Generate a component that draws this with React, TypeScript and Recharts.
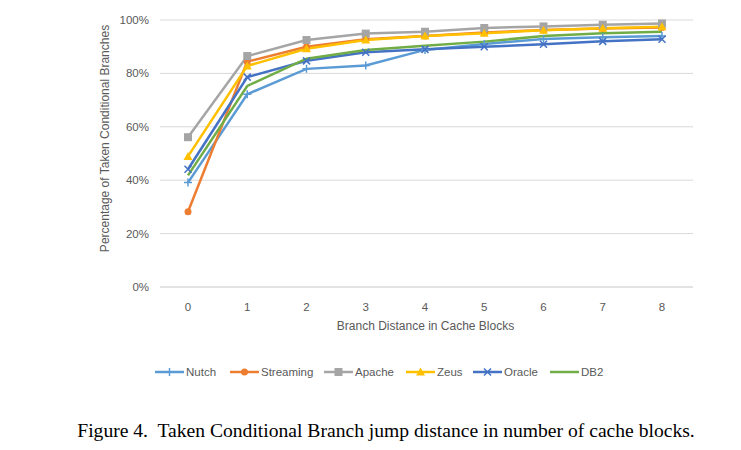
import React from 'react';
import { LineChart, Line, XAxis, YAxis, CartesianGrid, Legend } from 'recharts';

const distances = ['0', '1', '2', '3', '4', '5', '6', '7', '8'];
const nutch = [39.1, 72.2, 81.7, 83.0, 88.8, 91.0, 92.9, 93.5, 94.0];
const streaming = [28.2, 84.4, 90.0, 92.8, 94.0, 95.3, 96.3, 96.8, 97.2];
const apache = [56.1, 86.5, 92.5, 94.9, 95.6, 97.0, 97.6, 98.2, 98.7];
const zeus = [48.9, 82.8, 89.2, 92.5, 94.0, 95.0, 96.2, 96.9, 97.5];
const oracle = [44.1, 78.6, 84.7, 87.9, 89.0, 90.0, 90.9, 92.0, 92.8];
const db2 = [41.8, 75.3, 85.5, 88.8, 90.4, 91.9, 94.0, 95.0, 95.6];
const yTicks = [0, 20, 40, 60, 80, 100];

const data = distances.map((d, i) => ({
  d,
  Nutch: nutch[i],
  Streaming: streaming[i],
  Apache: apache[i],
  Zeus: zeus[i],
  Oracle: oracle[i],
  DB2: db2[i],
}));

const FONT = '"Liberation Sans", Arial, sans-serif';
const GRAY = '#595959';

type Marker = 'plus' | 'circle' | 'square' | 'triangle' | 'x' | 'none';

const series: { key: string; color: string; marker: Marker }[] = [
  { key: 'Nutch', color: '#5B9BD5', marker: 'plus' },
  { key: 'Streaming', color: '#ED7D31', marker: 'circle' },
  { key: 'Apache', color: '#A5A5A5', marker: 'square' },
  { key: 'Zeus', color: '#FFC000', marker: 'triangle' },
  { key: 'Oracle', color: '#4472C4', marker: 'x' },
  { key: 'DB2', color: '#70AD47', marker: 'none' },
];

const drawMarker = (m: Marker, cx: number, cy: number, color: string, k?: string) => {
  switch (m) {
    case 'plus':
      return (
        <path key={k} d={`M${cx - 4},${cy}H${cx + 4}M${cx},${cy - 4}V${cy + 4}`} stroke={color} strokeWidth={1.5} fill="none" />
      );
    case 'circle':
      return <circle key={k} cx={cx} cy={cy} r={3.5} fill={color} />;
    case 'square':
      return <rect key={k} x={cx - 4} y={cy - 4} width={8} height={8} fill={color} />;
    case 'triangle':
      return <path key={k} d={`M${cx},${cy - 4.5}L${cx + 4.5},${cy + 3.5}L${cx - 4.5},${cy + 3.5}Z`} fill={color} />;
    case 'x':
      return (
        <path key={k} d={`M${cx - 3.5},${cy - 3.5}L${cx + 3.5},${cy + 3.5}M${cx + 3.5},${cy - 3.5}L${cx - 3.5},${cy + 3.5}`} stroke={color} strokeWidth={1.5} fill="none" />
      );
    default:
      return <g key={k} />;
  }
};

const makeDot = (m: Marker, color: string) => (props: any) => {
  const { cx, cy, index } = props;
  return drawMarker(m, cx, cy, color, `dot-${index}`);
};

// legend laid out like the Excel one: line with marker in the middle, then the name
const legendPos = [147, 222, 316, 398, 465, 542];

const CustomLegend = () => (
  <svg width={733} height={30}>
    {series.map((s, i) => {
      const x = legendPos[i];
      return (
        <g key={s.key}>
          <line x1={x} x2={x + 29} y1={15} y2={15} stroke={s.color} strokeWidth={2.5} />
          {drawMarker(s.marker, x + 14.5, 15, s.color)}
          <text x={x + 31} y={19} fontSize={11.5} fontFamily={FONT} fill={GRAY}>
            {s.key}
          </text>
        </g>
      );
    })}
  </svg>
);

export default function App() {
  return (
    <div style={{ width: 733, background: '#fff' }}>
      <LineChart width={733} height={390} data={data} margin={{ top: 12, right: 48, left: 0, bottom: 11 }}>
        <CartesianGrid vertical={false} stroke="#d9d9d9" strokeWidth={1} />
        <XAxis
          dataKey="d"
          height={70}
          padding={{ left: 28, right: 31 }}
          axisLine={{ stroke: '#d9d9d9' }}
          tickLine={false}
          tickMargin={10}
          tick={{ fontSize: 11.5, fill: GRAY, fontFamily: FONT }}
          label={{
            content: (p: any) => {
              const vb = p.viewBox;
              return (
                <text x={vb.x + vb.width / 2 - 1} y={vb.y + 43} textAnchor="middle" fontSize={12} fontFamily={FONT} fill={GRAY}>
                  Branch Distance in Cache Blocks
                </text>
              );
            },
          }}
        />
        <YAxis
          width={152}
          domain={[0, 100]}
          ticks={yTicks}
          interval={0}
          axisLine={false}
          tickLine={false}
          tickMargin={5}
          tickFormatter={(v: number) => `${v}%`}
          tick={{ fontSize: 11.5, fill: GRAY, fontFamily: FONT }}
          label={{
            content: (p: any) => {
              const vb = p.viewBox;
              const cy = vb.y + vb.height / 2 - 15;
              return (
                <text x={101} y={cy} transform={`rotate(-90 101 ${cy})`} textAnchor="middle" fontSize={12} fontFamily={FONT} fill={GRAY}>
                  Percentage of Taken Conditional Branches
                </text>
              );
            },
          }}
        />
        {series.map((s) => (
          <Line
            key={s.key}
            type="linear"
            dataKey={s.key}
            stroke={s.color}
            strokeWidth={2.5}
            dot={makeDot(s.marker, s.color)}
            activeDot={false}
            isAnimationActive={false}
          />
        ))}
        <Legend verticalAlign="bottom" height={30} content={() => <CustomLegend />} />
      </LineChart>
      <div
        style={{
          fontFamily: '"Liberation Serif", "Times New Roman", serif',
          fontSize: 19.6,
          color: '#000',
          textAlign: 'center',
          marginTop: 22,
          width: 756,
          whiteSpace: 'nowrap',
        }}
      >
        Figure 4.&nbsp; Taken Conditional Branch jump distance in number of cache blocks.
      </div>
    </div>
  );
}
